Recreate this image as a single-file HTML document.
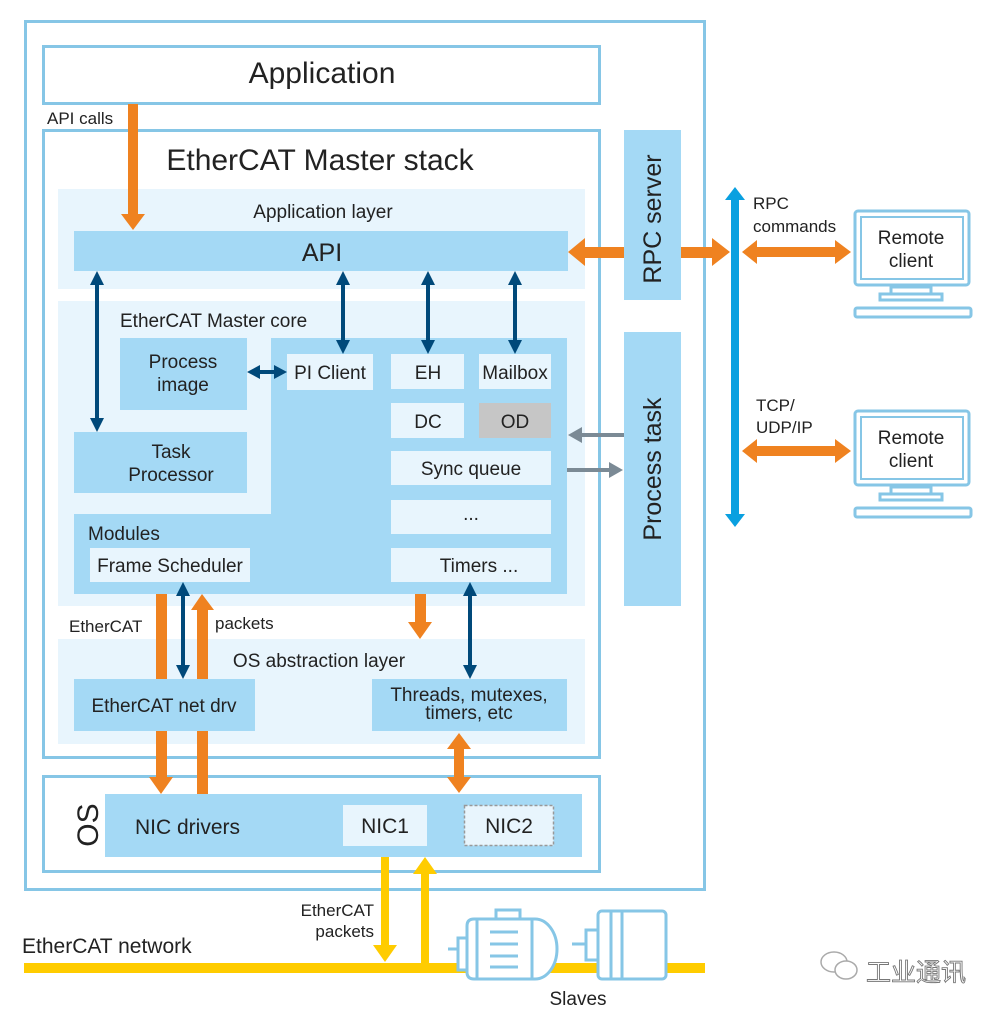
<!DOCTYPE html>
<html><head><meta charset="utf-8"><style>
body{margin:0;background:#fff;}
svg text{font-family:"Liberation Sans",Arial,sans-serif;fill:#222;}
</style></head><body>
<svg width="1000" height="1016" viewBox="0 0 1000 1016" xmlns="http://www.w3.org/2000/svg">
<!-- frames -->
<rect x="25.5" y="21.5" width="679" height="868" fill="none" stroke="#86c6e6" stroke-width="3"/>
<rect x="43.5" y="46.5" width="556" height="57" fill="none" stroke="#86c6e6" stroke-width="3"/>
<text x="322" y="83" font-size="30" text-anchor="middle">Application</text>
<rect x="43.5" y="130.5" width="556" height="627" fill="none" stroke="#86c6e6" stroke-width="3"/>
<text x="320" y="170" font-size="30" text-anchor="middle">EtherCAT Master stack</text>
<!-- app layer -->
<rect x="58" y="189" width="527" height="100" fill="#e8f5fd"/>
<text x="323" y="218" font-size="19" text-anchor="middle">Application layer</text>
<rect x="74" y="231" width="494" height="40" fill="#a4d9f5"/>
<text x="322" y="261" font-size="25" text-anchor="middle">API</text>
<!-- core -->
<rect x="58" y="301" width="527" height="305" fill="#e8f5fd"/>
<text x="120" y="327" font-size="19">EtherCAT Master core</text>
<rect x="120" y="338" width="127" height="72" fill="#a4d9f5"/>
<text x="183" y="368" font-size="19" text-anchor="middle">Process</text>
<text x="183" y="391" font-size="19" text-anchor="middle">image</text>
<rect x="74" y="432" width="173" height="61" fill="#a4d9f5"/>
<text x="171" y="458" font-size="19" text-anchor="middle">Task</text>
<text x="171" y="481" font-size="19" text-anchor="middle">Processor</text>
<rect x="271" y="338" width="296" height="256" fill="#a4d9f5"/>
<rect x="74" y="514" width="493" height="80" fill="#a4d9f5"/>
<text x="88" y="540" font-size="19">Modules</text>
<rect x="90" y="548" width="160" height="34" fill="#e8f5fd"/>
<text x="170" y="572" font-size="19" text-anchor="middle">Frame Scheduler</text>
<rect x="287" y="354" width="86" height="36" fill="#e8f5fd"/>
<text x="330" y="379" font-size="19" text-anchor="middle">PI Client</text>
<rect x="391" y="354" width="73" height="35" fill="#e8f5fd"/>
<text x="428" y="379" font-size="19" text-anchor="middle">EH</text>
<rect x="479" y="354" width="72" height="35" fill="#e8f5fd"/>
<text x="515" y="379" font-size="19" text-anchor="middle">Mailbox</text>
<rect x="391" y="403" width="73" height="35" fill="#e8f5fd"/>
<text x="428" y="428" font-size="19" text-anchor="middle">DC</text>
<rect x="479" y="403" width="72" height="35" fill="#c6c6c6"/>
<text x="515" y="428" font-size="19" text-anchor="middle">OD</text>
<rect x="391" y="451" width="160" height="34" fill="#e8f5fd"/>
<text x="471" y="475" font-size="19" text-anchor="middle">Sync queue</text>
<rect x="391" y="500" width="160" height="34" fill="#e8f5fd"/>
<text x="471" y="520" font-size="19" text-anchor="middle">...</text>
<rect x="391" y="548" width="160" height="34" fill="#e8f5fd"/>
<text x="479" y="572" font-size="19" text-anchor="middle">Timers ...</text>
<!-- OS abstraction -->
<rect x="58" y="639" width="527" height="105" fill="#e8f5fd"/>
<text x="319" y="667" font-size="19" text-anchor="middle">OS abstraction layer</text>
<rect x="74" y="679" width="181" height="52" fill="#a4d9f5"/>
<text x="164" y="712" font-size="19" text-anchor="middle">EtherCAT net drv</text>
<rect x="372" y="679" width="195" height="52" fill="#a4d9f5"/>
<text x="469" y="701" font-size="19" text-anchor="middle">Threads, mutexes,</text>
<text x="469" y="719" font-size="19" text-anchor="middle">timers, etc</text>
<text x="69" y="632" font-size="17">EtherCAT</text>
<text x="215" y="629" font-size="17">packets</text>
<!-- OS -->
<rect x="43.5" y="776.5" width="556" height="95" fill="none" stroke="#86c6e6" stroke-width="3"/>
<text x="88" y="825" font-size="30" text-anchor="middle" transform="rotate(-90 88 825)" dy="10">OS</text>
<rect x="105" y="794" width="477" height="63" fill="#a4d9f5"/>
<text x="135" y="834" font-size="21">NIC drivers</text>
<rect x="343" y="805" width="84" height="41" fill="#e8f5fd"/>
<text x="385" y="833" font-size="21" text-anchor="middle">NIC1</text>
<rect x="464.5" y="805.5" width="89" height="40" fill="#e8f5fd" stroke="#999" stroke-width="1.5" stroke-dasharray="3,2"/>
<text x="509" y="833" font-size="21" text-anchor="middle">NIC2</text>
<!-- RPC / Process task -->
<rect x="624" y="130" width="57" height="170" fill="#a4d9f5"/>
<text x="652" y="219" font-size="25" text-anchor="middle" transform="rotate(-90 652 219)" dy="9">RPC server</text>
<rect x="624" y="332" width="57" height="274" fill="#a4d9f5"/>
<text x="652" y="469" font-size="25" text-anchor="middle" transform="rotate(-90 652 469)" dy="9">Process task</text>
<text x="47" y="124" font-size="17">API calls</text>

<g stroke="#00497a" stroke-width="4" fill="none">
<line x1="97" y1="285" x2="97" y2="418"/>
<line x1="343" y1="285" x2="343" y2="340"/>
<line x1="428" y1="285" x2="428" y2="340"/>
<line x1="515" y1="285" x2="515" y2="340"/>
<line x1="260" y1="372" x2="276" y2="372"/>
<line x1="183" y1="596" x2="183" y2="665"/>
<line x1="470" y1="596" x2="470" y2="665"/>
</g>
<g fill="#00497a">
<path d="M90,285 L97,271 L104,285Z"/><path d="M90,418 L97,432 L104,418Z"/>
<path d="M336,285 L343,271 L350,285Z"/><path d="M336,340 L343,354 L350,340Z"/>
<path d="M421,285 L428,271 L435,285Z"/><path d="M421,340 L428,354 L435,340Z"/>
<path d="M508,285 L515,271 L522,285Z"/><path d="M508,340 L515,354 L522,340Z"/>
<path d="M260,365 L247,372 L260,379Z"/><path d="M274,365 L287,372 L274,379Z"/>
<path d="M176,596 L183,582 L190,596Z"/><path d="M176,665 L183,679 L190,665Z"/>
<path d="M463,596 L470,582 L477,596Z"/><path d="M463,665 L470,679 L477,665Z"/>
</g>
<!-- gray arrows -->
<g fill="#7b8a95">
<rect x="580" y="433" width="44" height="4"/><path d="M582,427 L568,435 L582,443Z"/>
<rect x="567" y="468" width="44" height="4"/><path d="M609,462 L623,470 L609,478Z"/>
</g>
<!-- orange arrows -->
<g fill="#ef8220">
<rect x="128" y="104" width="10" height="112"/><path d="M121,214 L133,230 L145,214Z"/>
<rect x="156" y="594" width="11" height="85"/>
<rect x="197" y="610" width="11" height="69"/><path d="M191,610 L202,594 L214,610Z"/>
<rect x="415" y="594" width="11" height="30"/><path d="M408,622 L420,639 L432,622Z"/>
<rect x="156" y="731" width="11" height="48"/><path d="M149,777 L161,794 L173,777Z"/>
<rect x="197" y="731" width="11" height="63"/>
<rect x="454" y="747" width="10" height="32"/><path d="M447,749 L459,733 L471,749Z"/><path d="M447,777 L459,793 L471,777Z"/>
<rect x="582" y="247" width="42" height="11"/><path d="M585,238 L568,252 L585,266Z"/>
<rect x="681" y="247" width="33" height="11"/><path d="M712,238 L730,252 L712,266Z"/>
<rect x="755" y="247" width="82" height="10"/><path d="M757,240 L742,252 L757,264Z"/><path d="M835,240 L851,252 L835,264Z"/>
<rect x="755" y="446" width="82" height="10"/><path d="M757,439 L742,451 L757,463Z"/><path d="M835,439 L851,451 L835,463Z"/>
</g>
<!-- blue vertical -->
<g fill="#0aa0e0">
<rect x="731" y="198" width="8" height="318"/>
<path d="M725,200 L735,187 L745,200Z"/><path d="M725,514 L735,527 L745,514Z"/>
</g>
<text x="753" y="209" font-size="17">RPC</text>
<text x="753" y="232" font-size="17">commands</text>
<text x="756" y="411" font-size="17">TCP/</text>
<text x="756" y="433" font-size="17">UDP/IP</text>
<!-- monitors -->
<g id="mon" fill="none" stroke="#86c6e6" stroke-width="3">
<rect x="855" y="211" width="114" height="74" rx="3"/>
<rect x="861" y="217" width="102" height="62" fill="none" stroke-width="2"/>
<rect x="891" y="287" width="40" height="7"/>
<rect x="880" y="294" width="62" height="6"/>
<rect x="855" y="308" width="116" height="9" rx="2"/>
</g>
<text x="911" y="244" font-size="19" text-anchor="middle">Remote</text>
<text x="911" y="267" font-size="19" text-anchor="middle">client</text>
<use href="#mon" y="200"/>
<text x="911" y="444" font-size="19" text-anchor="middle">Remote</text>
<text x="911" y="467" font-size="19" text-anchor="middle">client</text>
<!-- network -->
<rect x="24" y="963" width="681" height="10" fill="#ffcc00"/>
<text x="22" y="953" font-size="21">EtherCAT network</text>
<g fill="#ffcc00">
<rect x="381" y="857" width="8" height="90"/><path d="M373,945 L385,962 L397,945Z"/>
<rect x="421" y="872" width="8" height="92"/><path d="M413,874 L425,857 L437,874Z"/>
</g>
<text x="374" y="916" font-size="17" text-anchor="end">EtherCAT</text>
<text x="374" y="937" font-size="17" text-anchor="end">packets</text>
<!-- motors -->
<g fill="#fff" stroke="#86c6e6" stroke-width="3">
<rect x="496" y="910" width="24" height="9"/>
<rect x="458" y="938" width="9" height="32"/>
<line x1="448" y1="949" x2="458" y2="949"/>
<path d="M474,919 H535 A22,30 0 0 1 535,979 H474 Q467,979 467,972 V926 Q467,919 474,919Z"/>
<line x1="477" y1="920" x2="477" y2="978"/><line x1="532" y1="920" x2="532" y2="978"/>
<line x1="490" y1="932" x2="518" y2="932"/><line x1="490" y1="944" x2="518" y2="944"/>
<line x1="490" y1="956" x2="518" y2="956"/><line x1="490" y1="967" x2="518" y2="967"/>
<rect x="586" y="930" width="12" height="30"/>
<line x1="572" y1="944" x2="586" y2="944"/>
<rect x="598" y="911" width="68" height="68" rx="4"/>
<line x1="611" y1="912" x2="611" y2="978"/><line x1="622" y1="912" x2="622" y2="978"/>
</g>
<text x="578" y="1005" font-size="19" text-anchor="middle">Slaves</text>
<!-- watermark -->
<g fill="none" stroke="#aaa" stroke-width="1.5">
<ellipse cx="834" cy="962" rx="13" ry="10"/><ellipse cx="846" cy="970" rx="11" ry="9" fill="#fff"/>
</g>
<text x="866" y="981" font-size="25" style="fill:#fff;stroke:#777;stroke-width:0.9;font-family:'Noto Sans CJK SC',sans-serif">工业通讯</text>
</svg>
</body></html>
